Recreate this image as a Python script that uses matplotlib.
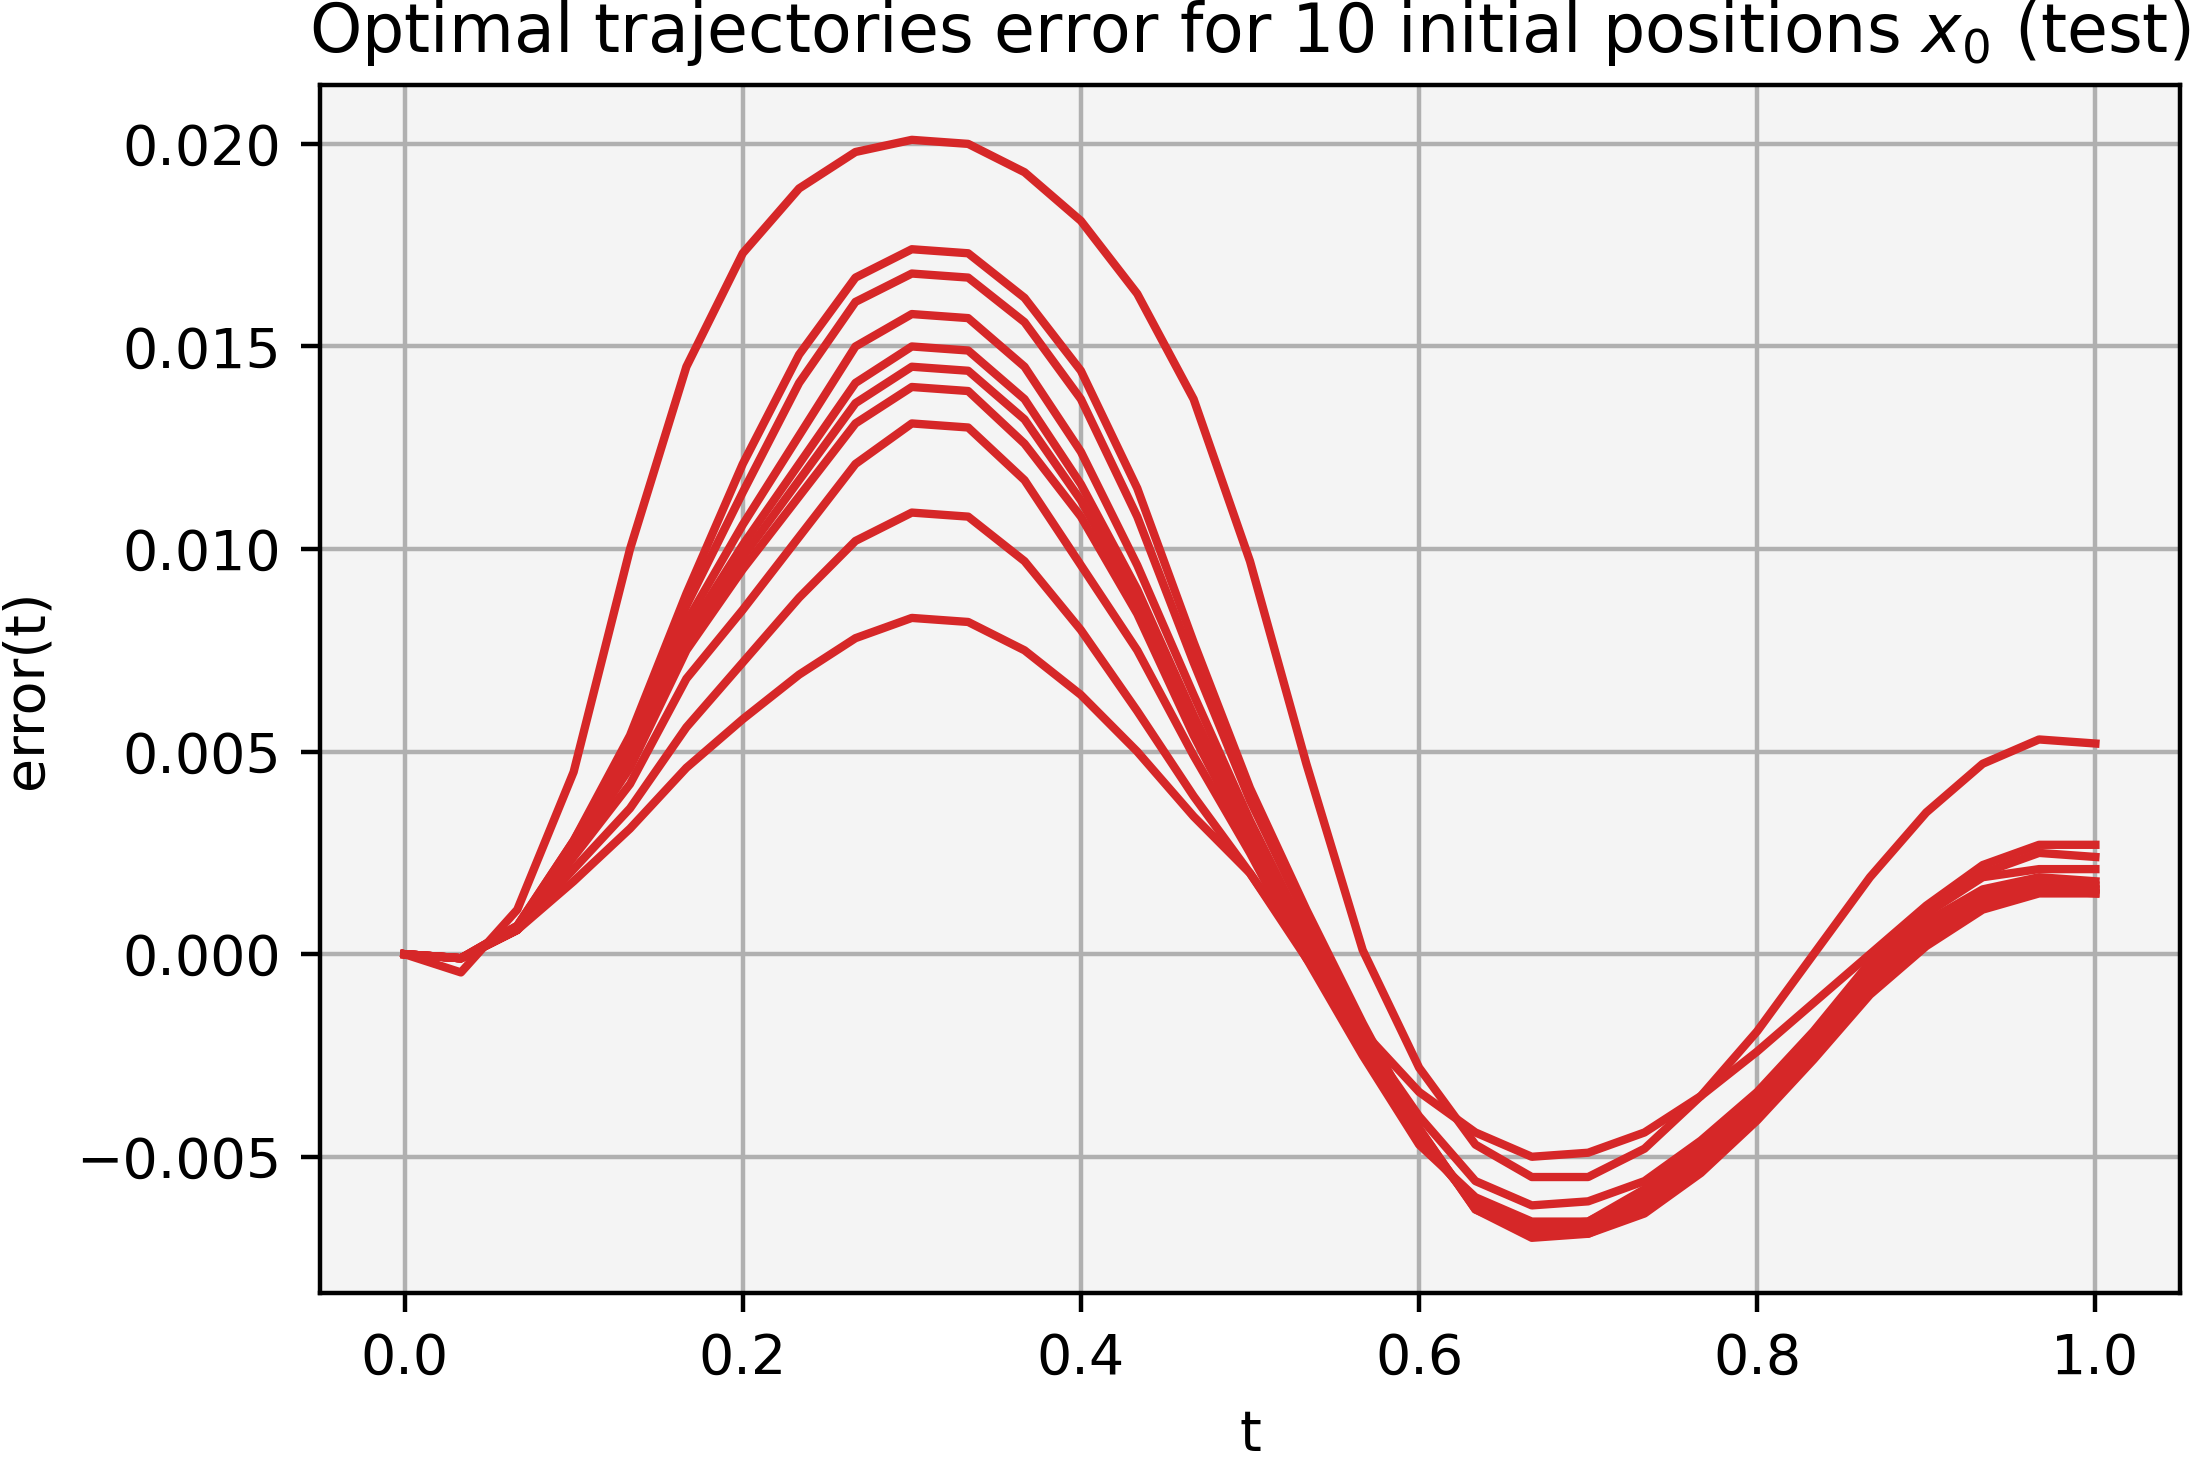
import numpy as np
import matplotlib
matplotlib.use('Agg')
import matplotlib.pyplot as plt

# time grid (31 samples on [0, 1])
t = np.linspace(0.0, 1.0, 31)

# error(t) for each of the 10 test initial positions
err_a = [0, -0.00045, 0.0011, 0.0045, 0.0100, 0.0145, 0.0173, 0.0189, 0.0198, 0.0201, 0.0200,
         0.0193, 0.0181, 0.0163, 0.0137, 0.0097, 0.0047, 0.0001, -0.0028, -0.0047, -0.0055,
         -0.0055, -0.0048, -0.0035, -0.0019, 0.0000, 0.0019, 0.0035, 0.0047, 0.0053, 0.0052]
err_b = [0, -0.0001, 0.0007, 0.0028, 0.0054, 0.0089, 0.0121, 0.0148, 0.0167, 0.0174, 0.0173,
         0.0162, 0.0144, 0.0115, 0.0077, 0.0041, 0.0011, -0.0017, -0.0043, -0.0063, -0.0070,
         -0.0069, -0.0064, -0.0054, -0.0041, -0.0026, -0.0010, 0.0002, 0.0011, 0.0015, 0.0015]
err_c = [0, -0.0001, 0.0007, 0.0028, 0.0052, 0.0086, 0.0114, 0.0141, 0.0161, 0.0168, 0.0167,
         0.0156, 0.0137, 0.0108, 0.0072, 0.0038, 0.0009, -0.0018, -0.0043, -0.0063, -0.0069,
         -0.0069, -0.0063, -0.0053, -0.0040, -0.0025, -0.0009, 0.0003, 0.0012, 0.0016, 0.0015]
err_d = [0, -0.0001, 0.0007, 0.0027, 0.0050, 0.0082, 0.0106, 0.0128, 0.0150, 0.0158, 0.0157,
         0.0145, 0.0124, 0.0096, 0.0064, 0.0033, 0.0005, -0.0021, -0.0044, -0.0062, -0.0068,
         -0.0068, -0.0062, -0.0052, -0.0039, -0.0024, -0.0008, 0.0004, 0.0013, 0.0016, 0.0016]
err_e = [0, -0.0001, 0.0006, 0.0026, 0.0048, 0.0079, 0.0101, 0.0121, 0.0141, 0.0150, 0.0149,
         0.0137, 0.0116, 0.0090, 0.0059, 0.0030, 0.0003, -0.0022, -0.0045, -0.0062, -0.0068,
         -0.0067, -0.0061, -0.0051, -0.0038, -0.0023, -0.0007, 0.0005, 0.0014, 0.0017, 0.0016]
err_f = [0, -0.0001, 0.0006, 0.0026, 0.0047, 0.0077, 0.0098, 0.0117, 0.0136, 0.0145, 0.0144,
         0.0132, 0.0112, 0.0087, 0.0057, 0.0029, 0.0002, -0.0023, -0.0046, -0.0061, -0.0067,
         -0.0067, -0.0060, -0.0050, -0.0037, -0.0022, -0.0006, 0.0006, 0.0015, 0.0018, 0.0017]
err_g = [0, -0.0001, 0.0006, 0.0025, 0.0046, 0.0075, 0.0095, 0.0113, 0.0131, 0.0140, 0.0139,
         0.0126, 0.0108, 0.0084, 0.0054, 0.0027, 0.0001, -0.0024, -0.0046, -0.0061, -0.0067,
         -0.0066, -0.0059, -0.0049, -0.0036, -0.0021, -0.0005, 0.0008, 0.0016, 0.0019, 0.0018]
err_h = [0, -0.0001, 0.0006, 0.0024, 0.0042, 0.0068, 0.0085, 0.0103, 0.0121, 0.0131, 0.0130,
         0.0117, 0.0096, 0.0075, 0.0049, 0.0025, -0.0001, -0.0025, -0.0047, -0.0060, -0.0066,
         -0.0066, -0.0058, -0.0048, -0.0035, -0.0020, -0.0003, 0.0010, 0.0019, 0.0021, 0.0021]
err_i = [0, -0.0001, 0.0006, 0.0021, 0.0036, 0.0056, 0.0072, 0.0088, 0.0102, 0.0109, 0.0108,
         0.0097, 0.0080, 0.0060, 0.0039, 0.0020, -0.0001, -0.0020, -0.0040, -0.0056, -0.0062,
         -0.0061, -0.0056, -0.0046, -0.0034, -0.0019, -0.0002, 0.0011, 0.0020, 0.0025, 0.0024]
err_j = [0, -0.0001, 0.0006, 0.0018, 0.0031, 0.0046, 0.0058, 0.0069, 0.0078, 0.0083, 0.0082,
         0.0075, 0.0064, 0.0050, 0.0034, 0.0020, 0.0000, -0.0019, -0.0034, -0.0044, -0.0050,
         -0.0049, -0.0044, -0.0035, -0.0024, -0.0012, 0.0000, 0.0012, 0.0022, 0.0027, 0.0027]

errors = [err_a, err_b, err_c, err_d, err_e, err_f, err_g, err_h, err_i, err_j]

fig = plt.figure(figsize=(5.48, 3.655), dpi=400)
ax = fig.add_axes([0.146, 0.1158, 0.8485, 0.8261])
ax.set_facecolor('#f4f4f4')

for e in errors:
    ax.plot(t, e, color='#d62728', linewidth=1.5)

ax.grid(True, color='#b0b0b0', linewidth=0.8)
ax.set_axisbelow(True)
ax.set_title('Optimal trajectories error for 10 initial positions $x_0$ (test)')
ax.set_xlabel('t')
ax.set_ylabel('error(t)')

fig.savefig('out.png', dpi=400)
